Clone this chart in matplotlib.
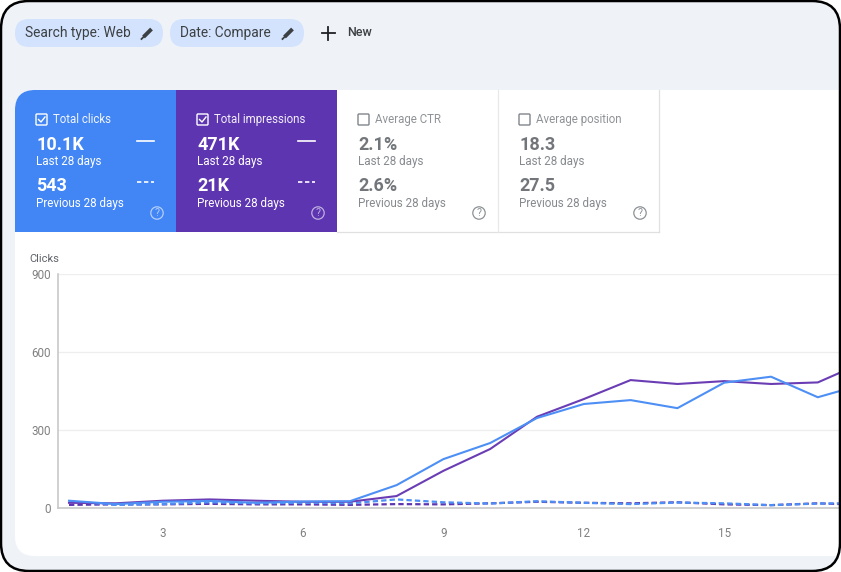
"""Search Console performance panel: filter chips, metric tiles and compare chart."""
import matplotlib

matplotlib.use("Agg")
import matplotlib.pyplot as plt
from matplotlib.patches import Circle, FancyBboxPatch, PathPatch, Rectangle
from matplotlib.path import Path

plt.rcParams["font.family"] = ["Roboto", "DejaVu Sans"]

W, H = 841, 572
BG = "#eff3f8"
BLUE = "#4285f4"
PURPLE = "#5e35b1"
LINE_BLUE = "#4d8ff5"
LINE_PURPLE = "#6a3db5"
GREY_TEXT = "#868a8e"

days = list(range(1, 19))
clicks_last = [28, 15, 24, 27, 20, 25, 26, 88, 188, 250, 346, 400, 415, 384, 482, 505, 426, 477]
impressions_last = [20, 18, 28, 33, 28, 24, 24, 46, 143, 227, 351, 419, 492, 477, 488, 477, 483, 562]
clicks_prev = [25, 12, 15, 22, 18, 20, 18, 33, 22, 17, 26, 20, 15, 21, 18, 11, 17, 19]
impressions_prev = [12, 14, 14, 16, 14, 14, 12, 15, 14, 18, 24, 20, 18, 22, 14, 11, 18, 12]

y_ticks = [0, 300, 600, 900]
x_ticks = [3, 6, 9, 12, 15]

chip_labels = ["Search type: Web", "Date: Compare"]
tile_titles = ["Total clicks", "Total impressions", "Average CTR", "Average position"]
tile_last = ["10.1K", "471K", "2.1%", "18.3"]
tile_prev = ["543", "21K", "2.6%", "27.5"]


def round_rect(x0, y0, x1, y1, tl=0, tr=0, br=0, bl=0):
    """Closed path for a rectangle with its own radius per corner (y points down)."""
    verts = [(x0 + tl, y0), (x1 - tr, y0), (x1, y0), (x1, y0 + tr), (x1, y1 - br), (x1, y1),
             (x1 - br, y1), (x0 + bl, y1), (x0, y1), (x0, y1 - bl), (x0, y0 + tl), (x0, y0),
             (x0 + tl, y0), (x0 + tl, y0)]
    codes = [Path.MOVETO, Path.LINETO, Path.CURVE3, Path.CURVE3, Path.LINETO, Path.CURVE3,
             Path.CURVE3, Path.LINETO, Path.CURVE3, Path.CURVE3, Path.LINETO, Path.CURVE3,
             Path.CURVE3, Path.CLOSEPOLY]
    return Path(verts, codes)


def draw_pencil(ax, x, y):
    ax.plot([x - 4, x + 4], [y + 4, y - 4], color="#3c4043", lw=2.8, solid_capstyle="butt")
    ax.plot([x - 6, x - 4], [y + 6, y + 4], color="#3c4043", lw=1.3)


def draw_tile(ax, x, title, last, prev, active):
    text_col = "white" if active else GREY_TEXT
    num_col = "white" if active else "#72767a"
    box_col = "white" if active else "#80868b"
    ax.add_patch(FancyBboxPatch((x + 21, 114), 11, 11, boxstyle="round,pad=0,rounding_size=1",
                                fc="none", ec=box_col, lw=1.0))
    if active:
        ax.plot([x + 23.5, x + 26, x + 30], [119.5, 122, 117], color="white", lw=1.0)
    ax.text(x + 38.5, 119.5, title, color=text_col, fontsize=8.3, va="center", alpha=0.92)
    ax.text(x + 21.5, 145, last, color=num_col, fontsize=13, fontweight="bold", va="center")
    ax.text(x + 21.5, 162, "Last 28 days", color=text_col, fontsize=8.4, va="center")
    ax.text(x + 21.5, 186, prev, color=num_col, fontsize=13, fontweight="bold", va="center")
    ax.text(x + 21.5, 203, "Previous 28 days", color=text_col, fontsize=8.4, va="center")
    if active:
        ax.plot([x + 122, x + 139], [140.5, 140.5], color="white", lw=1.2)
        ax.plot([x + 122, x + 139], [181.5, 181.5], color="white", lw=1.2, dashes=(2.6, 1.6))
    help_col = "#ffffff" if active else "#80868b"
    ax.add_patch(Circle((x + 142, 213), 6.2, fc="none", ec=help_col, lw=0.9, alpha=0.6 if active else 0.9))
    ax.text(x + 142, 213, "?", color=help_col, fontsize=7.5, ha="center", va="center",
            alpha=0.6 if active else 0.9)


fig = plt.figure(figsize=(W / 100, H / 100), dpi=100, facecolor="white")

# page chrome drawn in pixel coordinates
ui = fig.add_axes([0, 0, 1, 1])
ui.set_xlim(0, W)
ui.set_ylim(H, 0)
ui.axis("off")

ui.add_patch(PathPatch(round_rect(1, 1, 840, 571, 28, 28, 28, 28), fc=BG, ec="none"))
ui.add_patch(PathPatch(round_rect(15, 90, 839, 556, tl=20, bl=20), fc="white", ec="none"))

for (x0, x1), label, pencil_x in zip([(15, 163), (170, 304)], chip_labels, [147.5, 288.5]):
    ui.add_patch(FancyBboxPatch((x0, 19), x1 - x0, 28, boxstyle="round,pad=0,rounding_size=14",
                                fc="#d3e3fd", ec="none"))
    ui.text(x0 + 10.5, 33.5, label, color="#3c4043", fontsize=9.9, va="center")
    draw_pencil(ui, pencil_x, 33)

ui.plot([322, 335], [33, 33], color="#202124", lw=1.3)
ui.plot([328.5, 328.5], [26.5, 39.5], color="#202124", lw=1.3)
ui.text(347, 32.5, "New", color="#3c4043", fontsize=9.0, fontweight="medium", va="center")

ui.add_patch(PathPatch(round_rect(15, 90, 176, 232, tl=20), fc=BLUE, ec="none"))
ui.add_patch(Rectangle((176, 90), 161, 142, fc=PURPLE, ec="none"))
ui.plot([337, 659], [232, 232], color="#e0e0e0", lw=0.9)
ui.plot([498, 498], [90, 232], color="#e8e8e8", lw=0.9)
ui.plot([659, 659], [90, 232], color="#e0e0e0", lw=0.9)

for i, tile_x in enumerate([15, 176, 337, 498]):
    draw_tile(ui, tile_x, tile_titles[i], tile_last[i], tile_prev[i], i < 2)

# chart: day n sits at 69 + 46.8 * (n - 1) px, 0 at y=508 and 900 at y=274
left, right, top, bottom = 58, 839, 274, 508
ax = fig.add_axes([left / W, 1 - bottom / H, (right - left) / W, (bottom - top) / H], facecolor="none")
ax.set_xlim(1 + (left - 69) / 46.8, 1 + (right - 69) / 46.8)
ax.set_ylim(0, 900)

ax.plot(days, impressions_prev, color=PURPLE, lw=1.6, dashes=(2.4, 1.4))
ax.plot(days, clicks_prev, color=LINE_BLUE, lw=1.6, dashes=(2.4, 1.4))
ax.plot(days, impressions_last, color=LINE_PURPLE, lw=1.5)
ax.plot(days, clicks_last, color=LINE_BLUE, lw=1.5)

ax.set_xticks(x_ticks)
ax.set_yticks(y_ticks)
ax.grid(axis="y", color="#eeeeee", lw=0.9)
ax.set_axisbelow(True)
ax.tick_params(axis="both", length=0, labelsize=8.4, labelcolor="#808080")
ax.tick_params(axis="x", pad=14)
ax.tick_params(axis="y", pad=5)
for side in ["top", "right"]:
    ax.spines[side].set_visible(False)
for side in ["left", "bottom"]:
    ax.spines[side].set_color("#c8c8c8")
    ax.spines[side].set_linewidth(1.2)

ui.text(29, 259.5, "Clicks", color="#5f6368", fontsize=8.0, va="center")

# frame goes over everything so the lines stop at the border
frame = fig.add_axes([0, 0, 1, 1], facecolor="none")
frame.set_xlim(0, W)
frame.set_ylim(H, 0)
frame.axis("off")
frame.add_patch(PathPatch(round_rect(1, 1, 840, 571, 28, 28, 28, 28), fc="none", ec="#000000", lw=1.8))

fig.savefig("out.png", dpi=100)
